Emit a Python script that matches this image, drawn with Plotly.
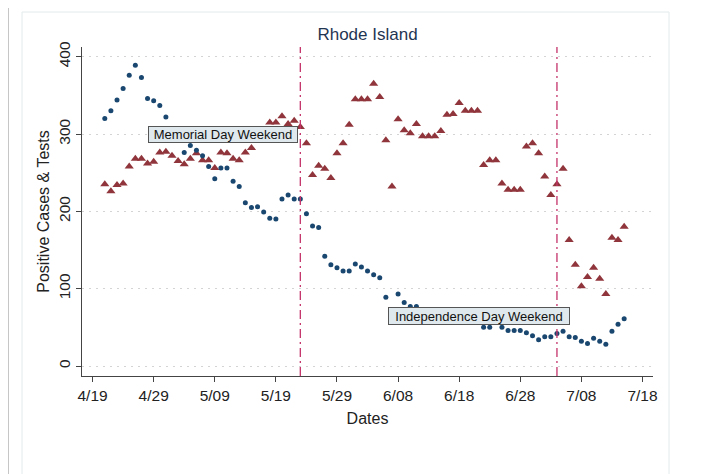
import pandas as pd
import plotly.graph_objects as go

# ---------------- data ----------------
dates = pd.date_range("2020-04-21", "2020-07-15", freq="D")

positive_cases = [320, 330, 344, 359, 376, 389, 373, 346, 343, 337, 322, None, None,
                  276, 285, 279, 272, 258, 242, 256, 256, 239, 232, 211, 205, 206, 199,
                  191, 190, 216, 221, 216, 216, 197, 181, 179, 142, 131, 127, 123, 123,
                  132, 128, 123, 118, 114, 89, None, 93, 82, 77, 77,
                  None, None, None, None, None, None, None, None, None, None,
                  50, 50, None, 50, 46, 46, 46, 43, 39, 34, 38, 38, 42, 45, 38, 37, 32,
                  29, 36, 32, 28, 45, 54, 61]

tests = [235, 226, 234, 236, 258, 268, 268, 262, 264, 276, 277, 272, 265, 261, 268,
         275, 266, 266, 256, 276, 275, 268, 266, 276, 282, None, None,
         315, 315, 323, 313, 317, 309, 288, 247, 259, 255,
         243, 275, 288, 312, 345, 345, 345, 365, 348, 292,
         232, 319, 305, 301, 313, 297, 297, 297, 304, 325,
         326, 340, 330, 330, 330, 260, 266, 266, 236, 228,
         228, 228, 284, 288, 275, 245, 221, 235, 255, 163,
         131, 103, 115, 127, 113, 93, 166, 163, 180]

tick_dates = ["2020-04-19", "2020-04-29", "2020-05-09", "2020-05-19", "2020-05-29",
              "2020-06-08", "2020-06-18", "2020-06-28", "2020-07-08", "2020-07-18"]
tick_labels = ["4/19", "4/29", "5/09", "5/19", "5/29", "6/08", "6/18", "6/28", "7/08", "7/18"]

event_dates = ["2020-05-23", "2020-07-04"]
event_labels = ["Memorial Day Weekend", "Independence Day Weekend"]

y_ticks = [0, 100, 200, 300, 400]

# ---------------- layout geometry ----------------
# the page body has an 8px margin, so the figure is 8px smaller and all
# page-pixel positions are shifted by 8px.
OFF = 8
PAGE_W, PAGE_H = 724, 474
W, H = PAGE_W - OFF, PAGE_H - OFF
L, T = 82 - OFF, 47 - OFF
R = W - (653 - OFF)
B = H - (376 - OFF)
PW, PH = W - L - R, H - T - B


def u(px):  # page pixel x -> paper x
    return (px - OFF - L) / PW


def v(py):  # page pixel y -> paper y
    return (H - B - (py - OFF)) / PH


FONT = "Liberation Sans, Arial, sans-serif"
NAVY = "#1a476f"
MAROON = "#90353b"
CRANBERRY = "#c4336a"

fig = go.Figure()

fig.add_trace(go.Scatter(
    x=dates, y=tests, mode="markers",
    marker=dict(symbol="triangle-up", size=8, color=MAROON),
    name="Tests", hoverinfo="x+y"))

fig.add_trace(go.Scatter(
    x=dates, y=positive_cases, mode="markers",
    marker=dict(symbol="circle", size=5, color=NAVY),
    name="Positive Cases", hoverinfo="x+y"))

shapes = []
for d in event_dates:
    shapes.append(dict(type="line", xref="x", yref="paper", x0=d, x1=d, y0=0, y1=1,
                       line=dict(color=CRANBERRY, width=1.3, dash="9px,4px,2px,4px"),
                       layer="above"))

deco = "#c6c6c6"
shapes += [
    dict(type="line", xref="paper", yref="paper", x0=u(8.5), x1=u(8.5), y0=v(8), y1=v(PAGE_H),
         line=dict(color=deco, width=1), layer="below"),
    dict(type="line", xref="paper", yref="paper", x0=u(719), x1=u(719), y0=v(8), y1=v(PAGE_H),
         line=dict(color="#b5b5b5", width=1), layer="below"),
    dict(type="rect", xref="paper", yref="paper", x0=u(22), x1=u(669), y0=v(12), y1=v(PAGE_H + 5),
         line=dict(color="#e3eaec", width=1), fillcolor="rgba(0,0,0,0)", layer="below"),
]

annotations = [
    dict(x=event_dates[0], y=300, xref="x", yref="y", text=event_labels[0],
         showarrow=False, xanchor="right", yanchor="middle", xshift=-2,
         font=dict(family=FONT, size=13, color="#111"),
         bgcolor="#dfe8ec", bordercolor="#555", borderwidth=1, borderpad=0,
         width=148, height=15),
    dict(x="2020-06-21 07:00", y=64.5, xref="x", yref="y", text=event_labels[1],
         showarrow=False, xanchor="center", yanchor="middle",
         font=dict(family=FONT, size=13, color="#111"),
         bgcolor="#dfe8ec", bordercolor="#555", borderwidth=1, borderpad=0,
         width=180, height=16),
]

fig.update_layout(
    width=W, height=H,
    margin=dict(l=L, r=R, t=T, b=B, pad=0),
    paper_bgcolor="white", plot_bgcolor="white",
    showlegend=False,
    font=dict(family=FONT, color="#222"),
    title=dict(text="Rhode Island", x=u(367.5), xref="paper", xanchor="center",
               y=1 - (34 - OFF) / H, yref="container", yanchor="middle",
               font=dict(family=FONT, size=17, color="#1f3552")),
    shapes=shapes,
    annotations=annotations,
)

fig.update_xaxes(
    type="date",
    range=["2020-04-17 06:29", "2020-07-19 17:17"],
    tickvals=tick_dates, ticktext=tick_labels,
    tickfont=dict(family=FONT, size=15.5, color="#222"),
    ticks="outside", ticklen=5, tickwidth=1.2, tickcolor="#444",
    showline=True, linecolor="#444", linewidth=1.3,
    showgrid=False, zeroline=False,
    title=dict(text="Dates", font=dict(family=FONT, size=16, color="#222"), standoff=10),
)

fig.update_yaxes(
    range=[-12.9, 412.5],
    tickvals=y_ticks,
    tickangle=-90,
    tickfont=dict(family=FONT, size=15.5, color="#222"),
    ticks="outside", ticklen=5, tickwidth=1.2, tickcolor="#444",
    showline=True, linecolor="#444", linewidth=1.3,
    showgrid=True, gridcolor="#d4d4d4", gridwidth=1, griddash="2px,5px",
    zeroline=False,
    title=dict(text="Positive Cases & Tests", font=dict(family=FONT, size=16, color="#222"),
               standoff=2),
)

fig.write_html("out.html")
